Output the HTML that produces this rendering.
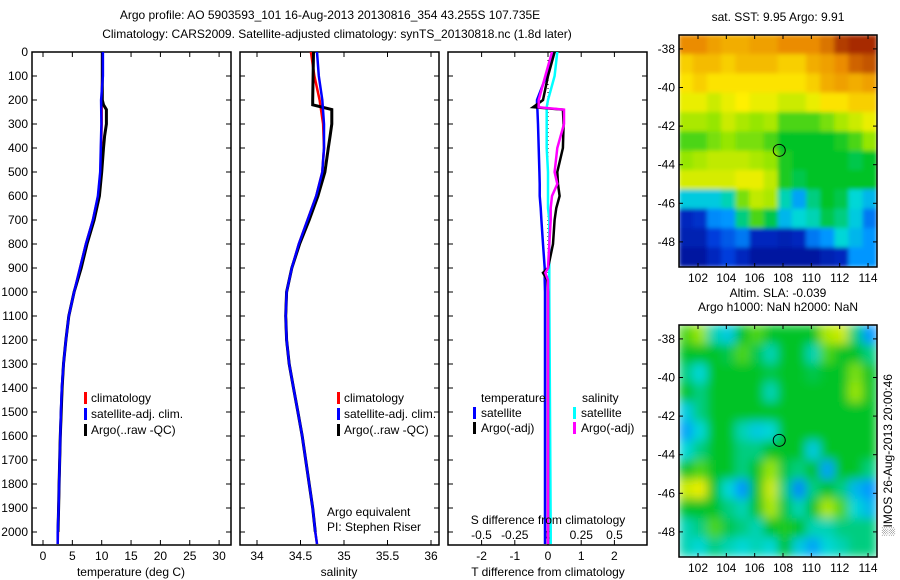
<!DOCTYPE html>
<html><head><meta charset="utf-8"><style>
html,body{margin:0;padding:0;background:#fff}
svg{display:block}
text{font-family:"Liberation Sans",sans-serif;font-size:12px;fill:#000}
</style></head><body>
<svg id="s" width="900" height="580" viewBox="0 0 900 580" xmlns="http://www.w3.org/2000/svg">
<defs>
<clipPath id="cm1"><rect x="679" y="35" width="198" height="232"/></clipPath>
<clipPath id="cm2"><rect x="679" y="325" width="198" height="232"/></clipPath>
<clipPath id="cp1"><rect x="32" y="52" width="199" height="493"/></clipPath>
<clipPath id="cp2"><rect x="240" y="52" width="199" height="493"/></clipPath>
<clipPath id="cp3"><rect x="448" y="52" width="199" height="493"/></clipPath>
<filter id="bl" x="0" y="0" width="1" height="1"><feGaussianBlur stdDeviation="5"/></filter>
<filter id="bl2" x="0" y="0" width="1" height="1"><feGaussianBlur stdDeviation="2"/></filter>
</defs>
<text x="330" y="19" text-anchor="middle">Argo profile: AO 5903593_101 16-Aug-2013 20130816_354 43.255S 107.735E</text>
<text x="337" y="38" text-anchor="middle">Climatology: CARS2009. Satellite-adjusted climatology: synTS_20130818.nc (1.8d later)</text>
<g id="g"></g>
</svg>
<script>
// ---- data ----
const depths=[0,100,200,300,400,500,600,700,800,900,1000,1100,1200,1300,1400,1500,1600,1700,1800,1900,2000,2050];
const tClim=[10.1,10.1,10.0,10.0,9.9,9.8,9.4,8.5,7.3,6.3,5.3,4.4,3.9,3.5,3.25,3.1,2.95,2.85,2.75,2.65,2.55,2.5];
const tSat=[10.2,10.2,9.9,9.95,9.85,9.75,9.35,8.5,7.3,6.3,5.3,4.4,3.9,3.5,3.2,3.05,2.95,2.85,2.75,2.65,2.5,2.5];
const argoDepths=[0,200,220,240,300,350,400,500,600,700,800,900,1000,1100,1200,1300,1400,1500,1600,1700,1800,1900,2000];
const tArgo=[10.1,10.1,10.3,10.8,10.8,10.5,10.3,10.0,9.6,8.7,7.5,6.5,5.3,4.4,3.9,3.5,3.25,3.1,2.95,2.85,2.75,2.65,2.55];
const sClim=[34.62,34.66,34.72,34.76,34.77,34.75,34.68,34.58,34.48,34.4,34.34,34.33,34.34,34.37,34.42,34.47,34.52,34.56,34.6,34.64,34.67,34.69];
const sSat=[34.69,34.71,34.75,34.77,34.77,34.75,34.68,34.58,34.48,34.4,34.34,34.33,34.34,34.37,34.42,34.47,34.52,34.56,34.6,34.64,34.67,34.69];
const sArgo=[34.65,34.64,34.64,34.86,34.86,34.84,34.82,34.78,34.7,34.6,34.49,34.4,34.34,34.33,34.34,34.37,34.42,34.47,34.52,34.56,34.6,34.64,34.67];
const dDepths=[0,100,200,230,240,300,400,500,550,600,650,700,800,900,920,950,1000,1500,2000,2050];
const dTSat=[0.15,-0.05,-0.33,-0.33,-0.32,-0.3,-0.28,-0.26,-0.25,-0.25,-0.22,-0.2,-0.15,-0.1,-0.1,-0.1,-0.09,-0.09,-0.09,-0.09];
const dTArgo=[0.2,0.0,-0.15,-0.45,0.45,0.47,0.45,0.28,0.3,0.35,0.25,0.2,0.15,0.0,-0.15,-0.02,0.0,0.0,0.0,0.0];
const dSSat=[0.07,0.05,0.0,-0.01,-0.01,-0.01,-0.01,0.0,0.0,0.0,0.0,0.01,0.01,0.01,0.01,0.01,0.01,0.015,0.02,0.02];
const dSArgo=[0.03,-0.02,-0.07,-0.07,0.12,0.12,0.07,0.05,0.07,0.03,0.02,0.02,0.01,0.0,-0.02,0.0,0.0,0.0,0.0,0.0];
const tTicks=[0,5,10,15,20,25,30];
const sTicks=[34,34.5,35,35.5,36];
const dTTicks=[-2,-1,0,1,2];
const dSTicks=[-0.5,-0.25,0,0.25,0.5];
const depthTicks=[0,100,200,300,400,500,600,700,800,900,1000,1100,1200,1300,1400,1500,1600,1700,1800,1900,2000];
const lonTicks=[102,104,106,108,110,112,114];
const latTicks=[-38,-40,-42,-44,-46,-48];
const sstGrid=[
[.85,.85,.82,.8,.8,.82,.82,.85,.85,.85,.88,.95,.97,.97],
[.75,.78,.78,.75,.78,.78,.78,.75,.75,.8,.82,.85,.9,.92],
[.72,.75,.72,.72,.72,.72,.72,.72,.72,.75,.8,.82,.8,.82],
[.68,.68,.65,.68,.7,.68,.68,.65,.65,.68,.72,.72,.75,.75],
[.62,.62,.6,.65,.62,.6,.62,.55,.55,.55,.58,.62,.65,.68],
[.55,.55,.58,.6,.58,.58,.55,.5,.5,.5,.5,.52,.55,.6],
[.6,.62,.64,.64,.64,.62,.6,.52,.5,.5,.5,.5,.48,.5],
[.66,.66,.66,.66,.68,.68,.64,.52,.48,.5,.5,.5,.5,.5],
[.38,.38,.38,.42,.58,.64,.62,.42,.32,.45,.5,.48,.4,.35],
[.1,.12,.28,.3,.45,.55,.48,.35,.4,.42,.48,.45,.38,.25],
[.08,.08,.15,.2,.25,.1,.1,.08,.1,.25,.3,.4,.35,.3],
[.05,.05,.1,.15,.1,.05,.05,.05,.05,.05,.08,.1,.3,.3]];
const slaGrid=[
[.55,.6,.42,.38,.5,.55,.5,.5,.5,.5,.62,.65,.45,.3],
[.5,.5,.5,.48,.55,.48,.42,.5,.5,.42,.55,.5,.5,.45],
[.45,.4,.5,.5,.5,.5,.48,.5,.5,.48,.5,.5,.58,.5],
[.5,.45,.5,.5,.5,.5,.42,.5,.5,.5,.5,.5,.6,.5],
[.38,.45,.5,.5,.5,.5,.5,.5,.5,.5,.5,.5,.5,.5],
[.32,.4,.5,.5,.42,.38,.4,.5,.5,.5,.5,.5,.5,.5],
[.4,.45,.5,.5,.45,.45,.5,.5,.5,.38,.5,.5,.5,.5],
[.5,.55,.5,.5,.45,.5,.6,.48,.45,.5,.32,.5,.5,.45],
[.65,.68,.5,.4,.3,.5,.65,.45,.28,.45,.5,.45,.35,.3],
[.5,.5,.5,.45,.42,.5,.62,.48,.42,.5,.62,.55,.4,.35],
[.42,.45,.55,.48,.45,.42,.5,.52,.5,.42,.42,.45,.45,.45],
[.42,.4,.45,.42,.4,.42,.4,.5,.38,.32,.4,.42,.45,.45]];
const argoLon=107.735, argoLat=-43.255;

// ---- scales ----
const NS="http://www.w3.org/2000/svg";
const G=document.getElementById('g');
function mk(tag,at,parent){const e=document.createElementNS(NS,tag);for(const k in at)e.setAttribute(k,at[k]);(parent||G).appendChild(e);return e;}
const yD=d=>52+d*0.24;
const xT=v=>43+v*5.87;
const xS=v=>257+(v-34)*87;
const xDT=v=>548+v*33.2;
const xDS=v=>548+v*133;
const PT=52,PB=545;

function frame(x0,x1,name){
  const r=mk('rect',{x:x0,y:PT,width:x1-x0,height:PB-PT,fill:'none',stroke:'#000','stroke-width':1.5});
  
  
  depthTicks.forEach(d=>{mk('line',{x1:x0,x2:x0+5,y1:yD(d),y2:yD(d),stroke:'#000'});mk('line',{x1:x1-5,x2:x1,y1:yD(d),y2:yD(d),stroke:'#000'});});
}
function xticks(vals,sc,labels,ly){
  vals.forEach(v=>{const x=sc(v);mk('line',{x1:x,x2:x,y1:PT,y2:PT+5,stroke:'#000'});mk('line',{x1:x,x2:x,y1:PB-5,y2:PB,stroke:'#000'});
    if(labels){const t=mk('text',{x:x,y:ly,'text-anchor':'middle'});t.textContent=String(v);
    
    }});
}
function line(xs,ds,sx,color,clip,name,w){
  let p='';xs.forEach((v,i)=>{p+=(i?'L':'M')+sx(v).toFixed(1)+','+yD(ds[i]).toFixed(1);});
  const e=mk('path',{d:p,fill:'none',stroke:color,'stroke-width':w||2.5,'clip-path':'url(#'+clip+')'});
  
  
}
function txt(x,y,s,name,anchor){const t=mk('text',{x:x,y:y,'text-anchor':anchor||'start'});t.textContent=s;
  
  return t;}
function legBar(x,y,c){mk('rect',{x:x,y:y-10,width:3,height:12,fill:c});}

depthTicks.forEach(d=>{txt(28,yD(d)+4,String(d),'depth-tick-label','end');});

// panel 1
frame(32,231,'temperature-panel');
xticks(tTicks,xT,true,560);
line(tClim,depths,xT,'#f00','cp1','temp-climatology-line');
line(tArgo,argoDepths,xT,'#000','cp1','temp-argo-line',3);
line(tSat,depths,xT,'#00f','cp1','temp-satellite-line');
txt(131,576,'temperature (deg C)','temperature-axis-title','middle');
legBar(84,402,'#f00');txt(91,402,'climatology','legend-climatology');
legBar(84,418,'#00f');txt(91,418,'satellite-adj. clim.','legend-satellite');
legBar(84,434,'#000');txt(91,434,'Argo(..raw -QC)','legend-argo');

// panel 2
frame(240,439,'salinity-panel');
xticks(sTicks,xS,true,560);
line(sClim,depths,xS,'#f00','cp2','sal-climatology-line');
line(sArgo,argoDepths,xS,'#000','cp2','sal-argo-line',3);
line(sSat,depths,xS,'#00f','cp2','sal-satellite-line');
txt(339,576,'salinity','salinity-axis-title','middle');
legBar(337,402,'#f00');txt(344,402,'climatology','legend-climatology-2');
legBar(337,418,'#00f');txt(344,418,'satellite-adj. clim.','legend-satellite-2');
legBar(337,434,'#000');txt(344,434,'Argo(..raw -QC)','legend-argo-2');
txt(327,516,'Argo equivalent','argo-equivalent-note');
txt(327,531,'PI: Stephen Riser','pi-note');

// panel 3
frame(448,647,'difference-panel');
xticks(dTTicks,xDT,true,560);
dSTicks.forEach(v=>{txt(xDS(v),539,String(v),'s-diff-tick-label','middle');});
mk('line',{x1:548,x2:548,y1:PT,y2:PB,stroke:'#000','stroke-dasharray':'1,3'});
line(dTSat,dDepths,xDT,'#00f','cp3','tdiff-satellite-line');
line(dSSat,dDepths,xDS,'#0ff','cp3','sdiff-satellite-line');
line(dTArgo,dDepths,xDT,'#000','cp3','tdiff-argo-line',2.5);
line(dSArgo,dDepths,xDS,'#f0f','cp3','sdiff-argo-line');
txt(481,402,'temperature','legend-temperature-header');
txt(582,402,'salinity','legend-salinity-header');
legBar(473,417,'#00f');txt(481,417,'satellite','legend-t-satellite');
legBar(473,432,'#000');txt(481,432,'Argo(-adj)','legend-t-argo');
legBar(573,417,'#0ff');txt(581,417,'satellite','legend-s-satellite');
legBar(573,432,'#f0f');txt(581,432,'Argo(-adj)','legend-s-argo');
txt(548,524,'S difference from climatology','s-diff-axis-title','middle');
txt(548,576,'T difference from climatology','t-diff-axis-title','middle');

// ---- maps ----
const cmapStops=[[0,[0,0,130]],[0.15,[0,60,220]],[0.3,[0,150,255]],[0.4,[0,215,215]],[0.5,[0,195,40]],[0.6,[150,230,0]],[0.7,[255,240,0]],[0.85,[235,140,0]],[1,[150,20,0]]];
function cmap(v){
  for(let i=1;i<cmapStops.length;i++){const a=cmapStops[i-1],b=cmapStops[i];
    if(v<=b[0]){const t=Math.max(0,(v-a[0])/(b[0]-a[0]));
      return 'rgb('+a[1].map((c,k)=>Math.round(c+(b[1][k]-c)*t)).join(',')+')';}}
  return 'rgb(150,20,0)';
}
function map(grid,top,clip,blurId,name,title1,title2){
  const L=679,R=877,lon0=100.66,lat0=-37.28,pxLon=14.17,pxLat=19.3;
  const xL=v=>L+(v-lon0)*pxLon, yL=v=>top+(lat0-v)*pxLat;
  const g=mk('g',{'clip-path':'url(#'+clip+')'});
  
  
  const inner=mk('g',{filter:'url(#'+blurId+')'},g);
  const nr=grid.length,nc=grid[0].length,cw=(R-L)/nc,ch=232/nr;
  grid.forEach((row,i)=>row.forEach((v,j)=>{
    mk('rect',{x:(L+j*cw-0.3).toFixed(1),y:(top+i*ch-0.3).toFixed(1),width:(cw+0.6).toFixed(1),height:(ch+0.6).toFixed(1),fill:cmap(v)},inner);}));
  mk('rect',{x:L,y:top,width:R-L,height:232,fill:'none',stroke:'#000','stroke-width':1.5});
  lonTicks.forEach(v=>{const x=xL(v);mk('line',{x1:x,x2:x,y1:top,y2:top+4,stroke:'#000'});mk('line',{x1:x,x2:x,y1:top+232-4,y2:top+232,stroke:'#000'});
    txt(x,top+247,String(v),'lon-tick-label','middle');});
  latTicks.forEach(v=>{const y=yL(v);mk('line',{x1:L,x2:L+4,y1:y,y2:y,stroke:'#000'});mk('line',{x1:R-4,x2:R,y1:y,y2:y,stroke:'#000'});
    txt(L-4,y+4,String(v),'lat-tick-label','end');});
  const c=mk('circle',{cx:xL(argoLon),cy:yL(argoLat),r:6,fill:'none',stroke:'#000','stroke-width':1});
  
  
  txt(778,top-14-(title2?14:0),title1,'map-title','middle');
  if(title2) txt(778,top-14,title2,'map-subtitle','middle');
}
map(sstGrid,35,'cm1','bl2','sst-map','sat. SST: 9.95 Argo: 9.91');
map(slaGrid,325,'cm2','bl','sla-map','Altim. SLA: -0.039','Argo h1000: NaN h2000: NaN');
const im=txt(0,0,'\u2591IMOS 26-Aug-2013 20:00:46','imos-timestamp','middle');
im.setAttribute('transform','translate(892,455) rotate(-90)');
</script>
</body></html>
